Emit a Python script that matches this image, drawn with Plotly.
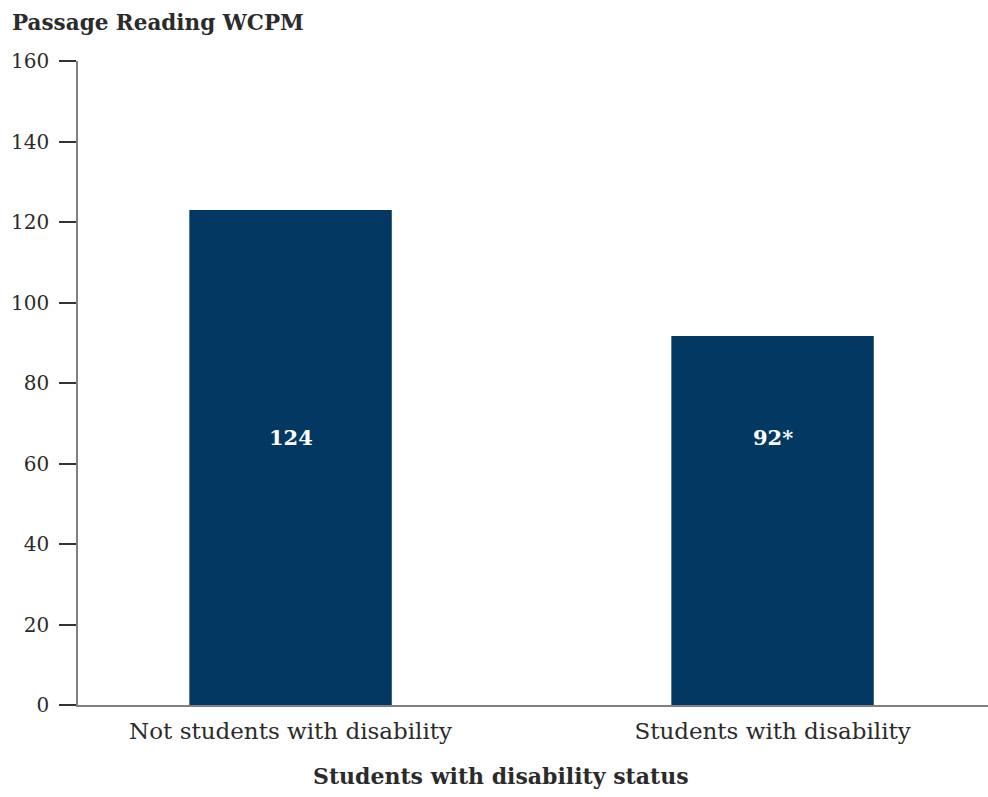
import plotly.graph_objects as go

categories = ["Not students with disability", "Students with disability"]
values = [123, 91.7]
labels = ["124", "92*"]
label_y = 66.5
y_ticks = [0, 20, 40, 60, 80, 100, 120, 140, 160]

FONT = "DejaVu Serif"
BAR = "#033863"
TXT = "#2b2b2b"

fig = go.Figure()
fig.add_trace(go.Bar(x=categories, y=values, marker=dict(color=BAR, line=dict(width=0)),
                     width=0.42, hoverinfo="skip"))
for c, l in zip(categories, labels):
    fig.add_annotation(x=c, y=label_y, text="<b>" + l + "</b>", showarrow=False,
                       font=dict(family=FONT, size=21, color="white"))

fig.add_annotation(xref="paper", yref="paper", x=-78/910, y=1 + 39/644, xanchor="left",
                   xshift=10, yanchor="middle", text="<b>Passage Reading WCPM</b>", showarrow=False,
                   font=dict(family=FONT, size=21.5, color=TXT))
fig.add_annotation(xref="paper", yref="paper", x=(501-78)/910, y=-(776-705)/644, xanchor="center",
                   yanchor="middle", text="<b>Students with disability status</b>", showarrow=False,
                   font=dict(family=FONT, size=22, color=TXT))

fig.update_layout(
    width=988, height=797,
    margin=dict(l=78, r=0, t=61, b=92),
    plot_bgcolor="white", paper_bgcolor="white",
    showlegend=False,
    font=dict(family=FONT, size=20, color=TXT),
)
fig.update_xaxes(range=[-0.441, 1.447], showline=True, linecolor="#808080", linewidth=2,
                 ticks="", showgrid=False, zeroline=False, ticklabelstandoff=4,
                 tickfont=dict(family=FONT, size=23, color=TXT))
fig.update_yaxes(range=[0, 160], tickvals=y_ticks, showline=True, linecolor="#808080", linewidth=1.5,
                 ticks="outside", ticklen=17, tickcolor="#333333", tickwidth=1.5,
                 showgrid=False, zeroline=False, ticklabelstandoff=6,
                 tickfont=dict(family=FONT, size=20, color=TXT))

fig.write_html("out.html", config={"displayModeBar": False},
               post_script="document.body.style.margin='0';document.body.style.overflow='hidden';")
